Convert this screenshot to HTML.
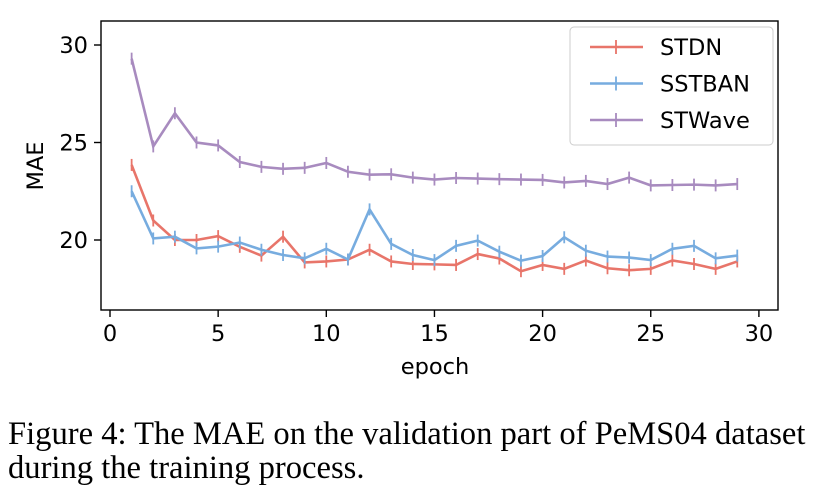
<!DOCTYPE html>
<html><head><meta charset="utf-8"><style>
body{margin:0;background:#fff;width:826px;height:500px;overflow:hidden}
svg text{font-family:"DejaVu Sans","Liberation Sans",sans-serif}
.cap{position:absolute;left:8px;top:417px;font-family:"Liberation Serif",serif;font-size:32.6px;line-height:34px;color:#000;white-space:nowrap}
</style></head><body>
<svg width="826" height="410" style="position:absolute;left:0;top:0">
<g id="axes"></g><g id="series"></g><g id="legend"></g>
</svg>
<div class="cap">Figure 4: The MAE on the validation part of PeMS04 dataset<br>during the training process.</div>
<script>
const epochs=[1,2,3,4,5,6,7,8,9,10,11,12,13,14,15,16,17,18,19,20,21,22,23,24,25,26,27,28,29];
const stdn=[23.85,21.0,20.0,20.0,20.2,19.65,19.2,20.17,18.85,18.9,19.0,19.5,18.9,18.77,18.75,18.72,19.28,19.05,18.4,18.72,18.52,18.95,18.55,18.45,18.52,18.95,18.77,18.52,18.9];
const sstban=[22.5,20.08,20.17,19.57,19.66,19.87,19.5,19.23,19.06,19.55,19.0,21.57,19.8,19.23,18.97,19.7,19.97,19.4,18.94,19.18,20.14,19.45,19.15,19.1,18.97,19.55,19.7,19.06,19.2];
const stwave=[29.3,24.8,26.5,25.0,24.85,24.0,23.75,23.65,23.7,23.95,23.5,23.35,23.37,23.2,23.1,23.18,23.15,23.12,23.1,23.08,22.95,23.03,22.87,23.2,22.8,22.82,22.84,22.8,22.87];
const xTicks=[0,5,10,15,20,25,30];
const yTicks=[20,25,30];
const seriesNames=["STDN","SSTBAN","STWave"];
const colors=["#e8756a","#77acdf","#a88bbf"];
const NS="http://www.w3.org/2000/svg";
function X(v){return 110+v*21.63;}
function Y(v){return 240-(v-20)*19.5;}
function mk(p,t,a){const e=document.createElementNS(NS,t);for(const k in a)e.setAttribute(k,a[k]);p.appendChild(e);return e;}
const ax=document.getElementById('axes');
const box=mk(ax,'rect',{x:101,y:21,width:677,height:289,fill:'none',stroke:'#000','stroke-width':1.4});


xTicks.forEach(t=>{
 mk(ax,'line',{x1:X(t),x2:X(t),y1:310,y2:317,stroke:'#000','stroke-width':1.4});
 const tx=mk(ax,'text',{x:X(t),y:341,'text-anchor':'middle','font-size':22.5});tx.textContent=t;
 
 
});
yTicks.forEach(t=>{
 mk(ax,'line',{x1:94,x2:101,y1:Y(t),y2:Y(t),stroke:'#000','stroke-width':1.4});
 const tx=mk(ax,'text',{x:88,y:Y(t)+8,'text-anchor':'end','font-size':22.5});tx.textContent=t;
 
 
});
const xl=mk(ax,'text',{x:435,y:374,'text-anchor':'middle','font-size':22.5});xl.textContent='epoch';


const yl=mk(ax,'text',{x:0,y:0,'text-anchor':'middle','font-size':22.5,transform:'translate(43,166) rotate(-90)'});yl.textContent='MAE';


const sg=document.getElementById('series');
[stdn,sstban,stwave].forEach((d,i)=>{
 const g=mk(sg,'g',{});
 
 
 mk(g,'polyline',{points:d.map((v,j)=>X(epochs[j])+','+Y(v)).join(' '),fill:'none',stroke:colors[i],'stroke-width':2.6});
 d.forEach((v,j)=>{const m=mk(g,'line',{x1:X(epochs[j]),x2:X(epochs[j]),y1:Y(v)-6,y2:Y(v)+6,stroke:colors[i],'stroke-width':1.8});
  
  });
});
const lg=document.getElementById('legend');
const lb=mk(lg,'rect',{x:570,y:27,width:203,height:118,rx:4,fill:'#fff',stroke:'#ccc'});


seriesNames.forEach((n,i)=>{
 const y=47+i*36.5;
 const g=mk(lg,'g',{});
 
 
 mk(g,'line',{x1:590,x2:643,y1:y,y2:y,stroke:colors[i],'stroke-width':2.6});
 mk(g,'line',{x1:616,x2:616,y1:y-7,y2:y+7,stroke:colors[i],'stroke-width':1.8});
 const t=mk(g,'text',{x:660,y:y+8,'font-size':22.5});t.textContent=n;
});
</script>
</body></html>
